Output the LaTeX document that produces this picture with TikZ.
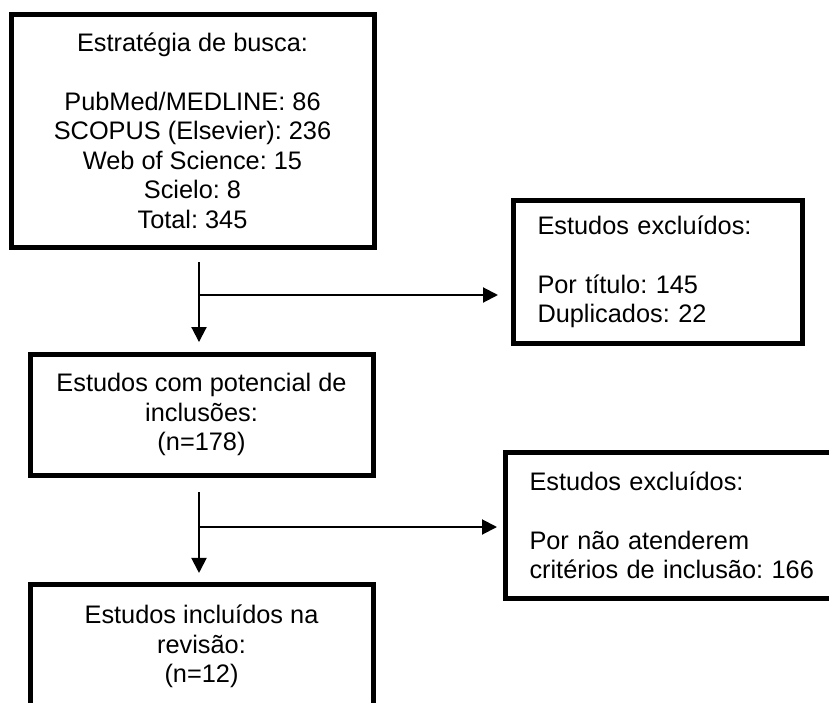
\documentclass[tikz,border=0pt]{standalone}
\usepackage{fontspec}
\setmainfont{Liberation Sans}
\usetikzlibrary{arrows.meta}
\frenchspacing
\begin{document}
\begin{tikzpicture}[x=0.75pt,y=-0.75pt,
  box/.style={draw, line width=3.75pt, inner ysep=0pt, inner xsep=18pt,
    font=\fontsize{19pt}{22.1pt}\selectfont\frenchspacing},
  cbox/.style={box, align=center},
  lbox/.style={box, align=left},
  arr/.style={line width=1.5pt, -{Triangle[length=11.25pt,width=11.25pt]}}]
\useasboundingbox (0,0) rectangle (829,703);
% boxes
\node[cbox, minimum width=272.25pt, minimum height=174.75pt] (busca) at (192.5,130.5)
  {Estratégia de busca:\\[22.1pt]PubMed/MEDLINE: 86\\SCOPUS (Elsevier): 236\\Web of Science: 15\\Scielo: 8\\Total: 345};
\node[lbox, text width=180.75pt, minimum width=216.75pt, minimum height=107.25pt] (exc1) at (658,272)
  {Estudos excluídos:\\[22.1pt]Por título: 145\\Duplicados: 22};
\node[cbox, minimum width=257.25pt, minimum height=90.75pt] (pot) at (201.5,414.5)
  {Estudos com potencial de\\inclusões:\\(n=178)};
\node[lbox, text width=237.375pt, minimum width=273.375pt, minimum height=109.5pt] (exc2) at (687.75,525.5)
  {Estudos excluídos:\\[22.1pt]Por não atenderem\\critérios de inclusão: 166};
\node[cbox, minimum width=257.25pt, minimum height=93.75pt] (inc) at (201.5,646.5)
  {Estudos incluídos na\\revisão:\\(n=12)};
% connectors
\coordinate (s1) at (199,262);
\coordinate (j1) at (199,295);
\coordinate (s2) at (199,492);
\coordinate (j2) at (199,527);
\draw[arr, shorten >=7.1pt] (s1) -- (s1 |- pot.north);
\draw[arr, shorten >=9.75pt] (j1) -- (j1 -| exc1.west);
\draw[arr, shorten >=6.4pt] (s2) -- (s2 |- inc.north);
\draw[arr, shorten >=4.5pt] (j2) -- (j2 -| exc2.west);
\end{tikzpicture}
\end{document}
